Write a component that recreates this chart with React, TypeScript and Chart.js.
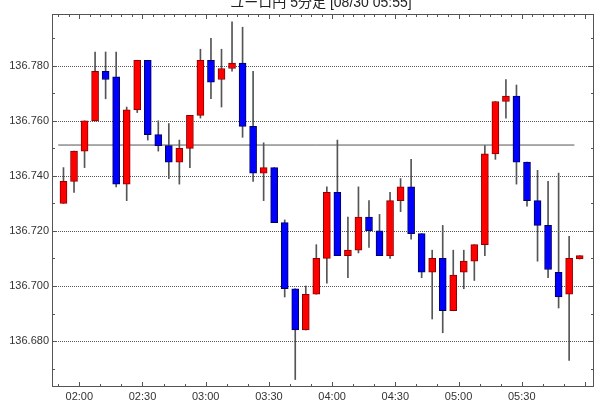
import React, { useEffect, useRef } from 'react';
import { Chart, registerables } from 'chart.js';

Chart.register(...registerables);

const chartTitle = 'ユーロ円 5分足 [08/30 05:55]';
const firstCandleTime = '01:50';
const candleMinutes = 5;

const opens = [
  136.730, 136.738, 136.749, 136.760, 136.778, 136.776, 136.737, 136.764, 136.782, 136.755,
  136.751, 136.745, 136.750, 136.762, 136.782, 136.775, 136.779, 136.781, 136.758, 136.741,
  136.743, 136.723, 136.699, 136.684, 136.697, 136.710, 136.734, 136.711, 136.713, 136.725,
  136.720, 136.711, 136.731, 136.736, 136.719, 136.705, 136.710, 136.691, 136.705, 136.709,
  136.715, 136.748, 136.767, 136.769, 136.745, 136.731, 136.722, 136.705, 136.697, 136.7098,
];
const highs = [
  136.743, 136.749, 136.760, 136.785, 136.785, 136.785, 136.765, 136.782, 136.782, 136.760,
  136.759, 136.753, 136.762, 136.786, 136.790, 136.786, 136.796, 136.794, 136.778, 136.752,
  136.743, 136.724, 136.699, 136.700, 136.715, 136.736, 136.753, 136.725, 136.736, 136.731,
  136.726, 136.734, 136.739, 136.746, 136.719, 136.713, 136.722, 136.713, 136.713, 136.715,
  136.751, 136.767, 136.775, 136.773, 136.745, 136.742, 136.738, 136.741, 136.718, 136.711,
];
const lows = [
  136.730, 136.734, 136.743, 136.760, 136.768, 136.736, 136.731, 136.763, 136.753, 136.749,
  136.739, 136.737, 136.743, 136.761, 136.768, 136.765, 136.778, 136.754, 136.738, 136.731,
  136.723, 136.696, 136.666, 136.684, 136.697, 136.701, 136.711, 136.703, 136.712, 136.714,
  136.711, 136.710, 136.727, 136.717, 136.703, 136.688, 136.683, 136.691, 136.699, 136.702,
  136.711, 136.746, 136.761, 136.737, 136.729, 136.709, 136.703, 136.692, 136.673, 136.7098,
];
const closes = [
  136.738, 136.749, 136.760, 136.778, 136.775, 136.737, 136.764, 136.782, 136.755, 136.751,
  136.745, 136.750, 136.762, 136.782, 136.774, 136.779, 136.781, 136.758, 136.741, 136.743,
  136.723, 136.699, 136.684, 136.697, 136.710, 136.734, 136.711, 136.713, 136.725, 136.720,
  136.711, 136.731, 136.736, 136.719, 136.705, 136.710, 136.691, 136.704, 136.709, 136.715,
  136.748, 136.767, 136.769, 136.745, 136.731, 136.722, 136.706, 136.696, 136.710, 136.711,
];

const xTickLabels = ['02:00', '02:30', '03:00', '03:30', '04:00', '04:30', '05:00', '05:30'];
const yTickValues = [136.68, 136.70, 136.72, 136.74, 136.76, 136.78];
const referenceLevel = 136.7512;

const yMin = 136.6633;
const yMax = 136.7988;
const xMin = -1.09;
const xMax = 50.36;

const UP_FILL = '#ff0000';
const UP_EDGE = '#8a0000';
const DOWN_FILL = '#0000ff';
const DOWN_EDGE = '#00005a';
const WICK = '#555555';
const FONT = '"Liberation Sans", Arial, "Noto Sans CJK JP", sans-serif';

const toMin = (t: string) => {
  const [h, m] = t.split(':').map(Number);
  return h * 60 + m;
};
// tick sits at the start boundary of the candle period (half a slot before centre)
const labelPos = (t: string) => (toMin(t) - toMin(firstCandleTime)) / candleMinutes - 0.5;
const xTickPositions = xTickLabels.map(labelPos);

const framePlugin = {
  id: 'frame',
  beforeDatasetsDraw(chart: any) {
    const { ctx, chartArea: a, scales } = chart;
    const y = scales.y;
    ctx.save();
    ctx.strokeStyle = '#555';
    ctx.lineWidth = 1;
    ctx.setLineDash([1, 1]);
    for (const v of yTickValues) {
      const py = Math.round(y.getPixelForValue(v)) + 0.5;
      ctx.beginPath();
      ctx.moveTo(a.left, py);
      ctx.lineTo(a.right, py);
      ctx.stroke();
    }
    ctx.restore();
  },
  afterDraw(chart: any) {
    const { ctx, chartArea: a, scales } = chart;
    const x = scales.x;
    const y = scales.y;
    ctx.save();
    ctx.strokeStyle = '#555';
    ctx.lineWidth = 1;
    ctx.setLineDash([]);
    ctx.strokeRect(a.left + 0.5, a.top + 0.5, a.right - a.left - 1, a.bottom - a.top - 1);

    // y ticks (every 0.01), inward on left and right
    for (let k = Math.ceil(yMin * 100); k <= Math.floor(yMax * 100); k++) {
      const v = k / 100;
      const py = Math.round(y.getPixelForValue(v)) + 0.5;
      const len = k % 2 === 0 ? 5 : 3;
      ctx.beginPath();
      ctx.moveTo(a.left, py);
      ctx.lineTo(a.left + len, py);
      ctx.moveTo(a.right, py);
      ctx.lineTo(a.right - len, py);
      ctx.stroke();
    }

    const isMajor = (p: number) => Math.abs(((p - xTickPositions[0]) % 6 + 6) % 6) < 1e-6;
    // bottom ticks every 2 slots
    for (let p = -0.5; p <= xMax; p += 2) {
      if (p < xMin) continue;
      const px = Math.round(x.getPixelForValue(p)) + 0.5;
      const len = isMajor(p) ? 5 : 3;
      ctx.beginPath();
      ctx.moveTo(px, a.bottom);
      ctx.lineTo(px, a.bottom - len);
      ctx.stroke();
    }
    // top ticks every slot
    for (let p = -0.5; p <= xMax; p += 1) {
      if (p < xMin) continue;
      const px = Math.round(x.getPixelForValue(p)) + 0.5;
      const len = isMajor(p) ? 5 : 3;
      ctx.beginPath();
      ctx.moveTo(px, a.top);
      ctx.lineTo(px, a.top + len);
      ctx.stroke();
    }

    // title
    ctx.fillStyle = '#222';
    ctx.font = `14px ${FONT}`;
    ctx.textAlign = 'center';
    ctx.textBaseline = 'alphabetic';
    ctx.fillText(chartTitle, (a.left + a.right) / 2 - 2, 7);
    ctx.restore();
  },
};

export default function App() {
  const canvasRef = useRef<HTMLCanvasElement | null>(null);

  useEffect(() => {
    const canvas = canvasRef.current;
    if (!canvas) return;
    const idx = opens.map((_, i) => i);
    const up = idx.map((i) => closes[i] >= opens[i]);

    const chart = new Chart(canvas, {
      type: 'bar',
      data: {
        datasets: [
          {
            type: 'line',
            data: [
              { x: -0.5, y: referenceLevel },
              { x: opens.length - 1.5, y: referenceLevel },
            ],
            borderColor: '#555',
            borderWidth: 1,
            pointRadius: 0,
            order: 3,
          } as any,
          {
            type: 'bar',
            data: idx.map((i) => ({ x: i, y: [lows[i], highs[i]] })),
            backgroundColor: WICK,
            borderWidth: 0,
            barThickness: 1,
            grouped: false,
            order: 2,
          } as any,
          {
            type: 'bar',
            data: idx.map((i) => ({ x: i, y: [opens[i], closes[i]] })),
            backgroundColor: up.map((u) => (u ? UP_FILL : DOWN_FILL)),
            borderColor: up.map((u) => (u ? UP_EDGE : DOWN_EDGE)),
            borderWidth: 1,
            borderSkipped: false,
            barThickness: 7,
            grouped: false,
            order: 1,
          } as any,
        ],
      },
      options: {
        animation: false,
        responsive: false,
        maintainAspectRatio: false,
        layout: { padding: { top: 14, right: 6, left: 0, bottom: 0 } },
        plugins: {
          legend: { display: false },
          tooltip: { enabled: false },
          title: { display: false },
        },
        scales: {
          x: {
            type: 'linear',
            offset: false,
            min: xMin,
            max: xMax,
            grid: { display: false, drawTicks: false, offset: false },
            border: { display: false },
            afterBuildTicks: (s: any) => {
              s.ticks = xTickPositions.map((v) => ({ value: v }));
            },
            afterFit: (s: any) => {
              s.height = 13;
            },
            ticks: {
              autoSkip: false,
              maxRotation: 0,
              padding: 3,
              color: '#333',
              font: { family: FONT, size: 11 },
              callback: (v: any) => {
                const k = xTickPositions.findIndex((t) => Math.abs(t - Number(v)) < 1e-6);
                return k >= 0 ? xTickLabels[k] : '';
              },
            },
          },
          y: {
            type: 'linear',
            min: yMin,
            max: yMax,
            grid: { display: false, drawTicks: false },
            border: { display: false },
            afterBuildTicks: (s: any) => {
              s.ticks = yTickValues.map((v) => ({ value: v }));
            },
            afterFit: (s: any) => {
              s.width = 52;
            },
            ticks: {
              padding: 3,
              color: '#333',
              font: { family: FONT, size: 11 },
              callback: (v: any) => Number(v).toFixed(3),
            },
          },
        },
      } as any,
      plugins: [framePlugin],
    });
    return () => chart.destroy();
  }, []);

  return (
    <div style={{ position: 'fixed', left: 0, top: 0, width: 600, height: 400, background: '#fff' }}>
      <canvas ref={canvasRef} width={600} height={400} style={{ display: 'block' }} />
    </div>
  );
}
